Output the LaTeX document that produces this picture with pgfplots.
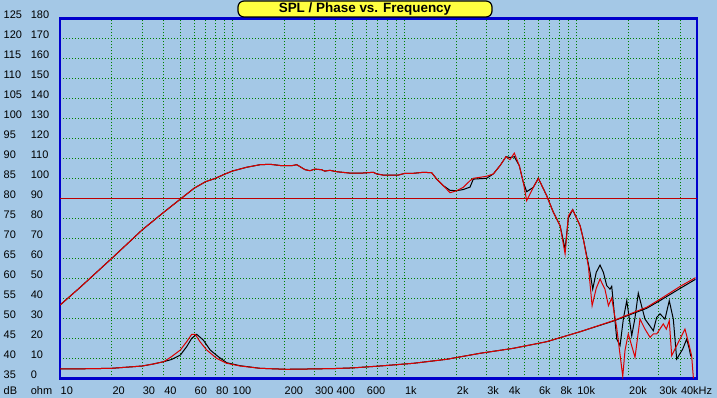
\documentclass[border=0pt]{standalone}
\usepackage{pgfplots}
\pgfplotsset{compat=1.18}
\usepackage{fontspec}
\setmainfont{Liberation Sans}
\definecolor{bgblue}{RGB}{164,200,230}
\definecolor{frameblue}{RGB}{0,0,204}
\definecolor{gridgreen}{RGB}{0,128,0}
\definecolor{curvered}{RGB}{220,0,0}
\definecolor{refred}{RGB}{190,0,0}
\definecolor{titleyellow}{RGB}{255,255,64}
\begin{document}
\begin{tikzpicture}[font=\fontsize{11}{13}\selectfont]
\fill[bgblue] (0bp,0bp) rectangle (717bp,398bp);
\begin{axis}[
  at={(60bp,19.7bp)}, anchor=south west,
  width=637bp, height=360bp, scale only axis,
  xmode=log, xmin=10, xmax=50000, ymin=35, ymax=125,
  axis line style={frameblue, line width=2.5bp},
  grid=both,
  grid style={gridgreen, line width=1bp, dash pattern=on 1bp off 2bp},
  minor grid style={gridgreen, line width=1bp, dash pattern=on 1bp off 2bp},
  major tick length=0pt, minor tick length=0pt,
  xtick={10,20,30,40,60,80,100,200,300,400,600,1000,2000,3000,4000,6000,8000,10000,20000,30000,40000},
  xticklabels={10,20,30,40,60,80,100,200,300,400,600,1k,2k,3k,4k,6k,8k,10k,20k,30k,40kHz},
  minor xtick={50,70,90,500,700,800,900,5000,7000,9000},
  ytick={35,40,...,125},
  /pgf/number format/assume math mode=true,
  tick label style={font=\fontsize{11}{13}\selectfont},
  xticklabel style={anchor=west, inner sep=0pt, yshift=-12.2bp, xshift=0.5bp},
  yticklabel style={anchor=base west, inner sep=0pt, xshift=-56.5bp, yshift=-0.5bp},
  clip=true,
]
\addplot[refred, line width=1.5bp] coordinates {(10,80) (50000,80)};
% SPL black
\addplot[black, line width=1bp] coordinates {
(10,53.3) (13.1,57.75) (20,65) (30,72.1) (40,76.5) (50,79.8) (60,82.5) (70,84.15) (80,85.0) (90,86.0)
(100,86.8) (121,87.75) (145,88.4) (166,88.5) (190,88.2) (221,88.15) (237,88.4) (265,87.15) (283,86.9)
(302,87.3) (330,87.15) (345,86.8) (369,87.0) (404,86.65) (483,86.3) (565,86.3) (660,86.5) (690,86.1)
(754,85.8) (921,85.8) (1008,86.25) (1127,86.25) (1288,86.5) (1440,86.4) (1540,84.8) (1683,83.15)
(1840,82.0) (2012,81.9) (2198,82.2) (2404,82.8) (2512,84.8) (3000,85.0) (3284,86.1) (3589,88.15)
(3890,90.4) (4103,90.2) (4346,90.4) (4646,88.15) (4901,84.0) (5129,81.65) (5605,82.75) (5995,85.0)
(6702,80.65) (7325,76.5) (8017,73.15) (8570,67.3) (8954,75.0) (9487,77.15) (10471,73.15) (10940,69.8)
(11960,61.5) (12400,57.3) (13000,61.5) (13670,63.3) (14300,61.5) (14960,58.15) (15630,57.3) (15990,58.0) (17100,44.8) (17870,43.15)
(18700,50) (19550,54.4) (20890,45.65) (21800,50) (22800,56.3) (24940,49.8) (27880,46.9) (29170,50.25) (30500,51.1) (32590,49.8)
(34510,54.4) (36430,49.8) (38110,39.8) (41300,42.3) (43550,44.8) (45000,42.5) (46000,40.5)
};
% SPL red
\addplot[curvered, line width=1bp] coordinates {
(10,53.3) (13.1,57.75) (20,65) (30,72.1) (40,76.5) (50,79.8) (60,82.5) (70,84.15) (80,85.0) (90,86.0)
(100,86.8) (121,87.75) (145,88.4) (166,88.5) (190,88.2) (221,88.15) (237,88.4) (265,87.15) (283,86.9)
(302,87.3) (330,87.15) (345,86.8) (369,87.0) (404,86.65) (483,86.3) (565,86.3) (660,86.5) (690,86.1)
(754,85.8) (921,85.8) (1008,86.25) (1127,86.25) (1288,86.5) (1440,86.4) (1540,84.8) (1683,83.15)
(1840,81.4) (2012,81.9) (2198,82.75) (2404,84.4) (2512,85.0) (3000,85.5) (3284,86.1) (3589,88.15)
(3890,90.4) (4103,89.65) (4346,91.3) (4646,88.15) (4901,84.0) (5129,79.4) (5605,82.75) (5995,85.0)
(6702,80.65) (7325,76.5) (8017,73.15) (8570,66.1) (8954,75.65) (9487,77.15) (10471,73.15) (10940,69.8)
(11700,63) (12300,53.15) (13000,57.5) (13670,59.8) (14600,57.3) (15300,53.15) (15990,55.1) (17100,47.5) (18530,35.5)
(19100,42) (19950,46.1) (21830,40.25) (23330,49.8) (24940,47.3) (26680,45.25) (27880,46.1) (29170,46.1)
(31860,48.6) (33180,47.3) (34510,49.4) (35650,40.65) (37230,42.3) (42560,47.3) (44580,44) (46540,40.65)
(47640,35)
};
\end{axis}
\begin{axis}[
  at={(60bp,19.7bp)}, anchor=south west,
  width=637bp, height=360bp, scale only axis,
  xmode=log, xmin=10, xmax=50000, ymin=0, ymax=180,
  axis line style={draw=none},
  xtick=\empty, ytick={0,10,...,180},
  major tick length=0pt, minor tick length=0pt,
  /pgf/number format/assume math mode=true,
  tick label style={font=\fontsize{11}{13}\selectfont},
  yticklabel style={anchor=base west, inner sep=0pt, xshift=-29.3bp, yshift=-0.5bp},
]
% impedance black
\addplot[black, line width=1bp] coordinates {
(10,4.65) (15,4.8) (20,5.0) (26.6,5.8) (30,6.15) (34.8,7.15) (40,8.3) (44.4,9.4) (50,11.65) (54.4,15.8)
(58.2,20) (62.2,22.0) (67.9,19.15) (74.5,14.15) (83,10.8) (92.9,7.8) (111,6.3) (145,5.0) (207,4.5)
(300,4.7) (400,4.9) (500,5.2) (721,6.15) (1127,7.5) (1760,9.5) (2748,12.5) (4295,15.0) (6700,18.3)
(10480,23.3) (16300,28.6) (25500,35.0) (30000,38.5) (40000,45.0) (49000,49.5)
};
% impedance red
\addplot[curvered, line width=1bp] coordinates {
(10,4.65) (15,4.8) (20,5.0) (26.6,5.8) (30,6.15) (34.8,7.15) (40,8.3) (44.4,10.8) (50,14.15) (54.4,18.3)
(58.2,22.0) (61,22.0) (65,18.3) (71.1,14.15) (81.2,10.0) (92.9,7.5) (111,6.15) (145,5.0) (207,4.5)
(300,4.7) (400,4.9) (500,5.2) (721,6.15) (1127,7.5) (1760,9.5) (2748,12.5) (4295,15.0) (6700,18.3)
(10480,23.3) (16300,28.8) (25500,35.5) (30000,39.15) (40000,46.0) (49000,50.3)
};
\end{axis}
\node[anchor=west, inner sep=0pt] at (3.5bp,7.5bp) {dB};
\node[anchor=west, inner sep=0pt] at (30.7bp,7.5bp) {ohm};
\node[draw=black, line width=1.2bp, fill=titleyellow, rounded corners=6bp, minimum width=254bp, minimum height=16bp, inner sep=0pt, font=\fontsize{13.5}{15}\selectfont\bfseries] at (365bp,389bp) {SPL / Phase vs. Frequency};
\end{tikzpicture}
\end{document}
